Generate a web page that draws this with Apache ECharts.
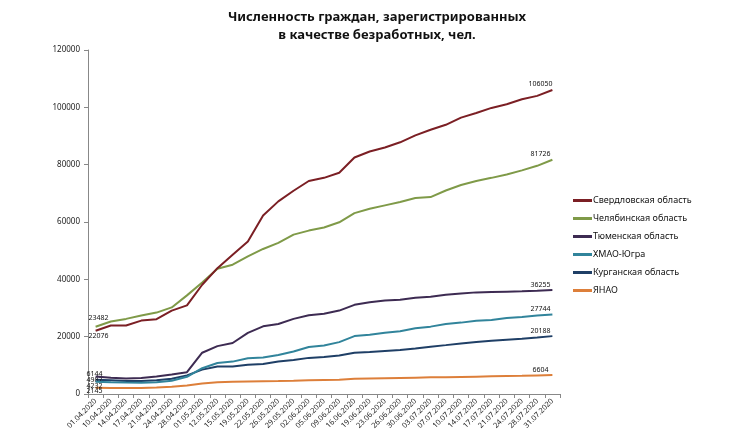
<!DOCTYPE html>
<html>
<head>
<meta charset="utf-8">
<script src="https://cdn.jsdelivr.net/npm/echarts@6/dist/echarts.min.js"></script>
<style>
  html, body { margin: 0; padding: 0; background: #fff; }
  #chart { width: 735px; height: 441px; }
</style>
</head>
<body>
<div id="chart"></div>
<script>
// даты (ось X)
var dates = ['01.04.2020', '10.04.2020', '14.04.2020', '17.04.2020', '21.04.2020', '24.04.2020', '28.04.2020',
    '01.05.2020', '12.05.2020', '15.05.2020', '19.05.2020', '22.05.2020', '26.05.2020', '29.05.2020',
    '02.06.2020', '05.06.2020', '09.06.2020', '16.06.2020', '19.06.2020', '23.06.2020', '26.06.2020', '30.06.2020',
    '03.07.2020', '07.07.2020', '10.07.2020', '14.07.2020', '17.07.2020', '21.07.2020', '24.07.2020', '28.07.2020', '31.07.2020'];

var sverdlovsk = [22076, 23900, 23900, 25600, 26100, 29100, 30900, 38100, 43900, 48600, 53200, 62300, 67200, 70900,
    74300, 75400, 77200, 82500, 84600, 86000, 87800, 90200, 92200, 93900, 96400, 98000, 99800, 101100, 102800, 104000, 106050];
var chelyabinsk = [23482, 25300, 26200, 27400, 28400, 30200, 34400, 38900, 43700, 45100, 48000, 50600, 52700, 55600,
    57000, 58100, 59900, 63100, 64600, 65800, 67000, 68400, 68700, 71000, 72900, 74300, 75400, 76600, 78000, 79600, 81726];
var tyumen = [6144, 5700, 5450, 5550, 6100, 6800, 7600, 14400, 16700, 17800, 21300, 23600, 24400, 26200,
    27500, 28000, 29100, 31100, 32000, 32600, 32900, 33600, 33950, 34600, 35100, 35450, 35600, 35700, 35800, 36000, 36255];
var hmao = [4232, 4100, 4000, 3950, 4100, 4600, 6000, 9000, 10800, 11300, 12500, 12700, 13600, 14800,
    16400, 16900, 18100, 20200, 20700, 21400, 21900, 22900, 23500, 24400, 24900, 25550, 25800, 26500, 26900, 27400, 27744];
var kurgan = [4987, 4800, 4500, 4500, 4800, 5300, 6500, 8500, 9600, 9600, 10200, 10500, 11300, 11900,
    12600, 12940, 13400, 14400, 14650, 15000, 15350, 15900, 16500, 17050, 17650, 18100, 18550, 18900, 19250, 19700, 20188];
var yanao = [2145, 2100, 2100, 2100, 2250, 2550, 3000, 3700, 4100, 4300, 4400, 4450, 4500, 4600,
    4800, 4900, 5000, 5300, 5400, 5500, 5600, 5700, 5800, 5850, 5950, 6050, 6150, 6250, 6350, 6480, 6604];

var seriesNames = ['Свердловская область', 'Челябинская область', 'Тюменская область', 'ХМАО-Югра', 'Курганская область', 'ЯНАО'];
var seriesColors = ['#7b1f24', '#7f9a48', '#3d2b52', '#31849b', '#1f3f66', '#dd7f3a'];

// подписи первой точки: смещение относительно точки
var startOffsets = [[3, 5], [3, -9], [-1, -2], [-1, 4], [-1, 0], [-1, 3]];

function buildData(values, idx) {
    var last = values.length - 1;
    return values.map(function (v, i) {
        if (i === 0) {
            return {value: v, label: {show: true, position: 'inside', offset: startOffsets[idx]}};
        }
        if (i === last) {
            return {value: v, label: {show: true, position: 'top', distance: 2, offset: [-12, 0]}};
        }
        return v;
    });
}

var allValues = [sverdlovsk, chelyabinsk, tyumen, hmao, kurgan, yanao];
var series = allValues.map(function (vals, idx) {
    return {
        name: seriesNames[idx],
        type: 'line',
        data: buildData(vals, idx),
        symbol: 'circle',
        symbolSize: 0,
        showSymbol: true,
        lineStyle: {width: 2, color: seriesColors[idx]},
        itemStyle: {color: seriesColors[idx]},
        label: {show: false, fontSize: 7, color: '#111', fontFamily: 'Noto Sans'},
        emphasis: {disabled: true},
        animation: false,
        z: 10 - idx
    };
});

var chart = echarts.init(document.getElementById('chart'));
chart.setOption({
    backgroundColor: '#fff',
    textStyle: {fontFamily: 'Noto Sans'},
    title: {
        text: 'Численность граждан, зарегистрированных\nв качестве безработных, чел.',
        left: 372,
        top: 3,
        textAlign: 'center',
        textStyle: {fontSize: 13, fontWeight: 'bold', color: '#111', lineHeight: 18, fontFamily: 'Noto Sans'}
    },
    legend: {
        orient: 'vertical',
        left: 573,
        top: 196,
        padding: 0,
        icon: 'rect',
        itemWidth: 19,
        itemHeight: 3,
        itemGap: 9,
        data: seriesNames,
        textStyle: {fontSize: 9, color: '#111', padding: [0, 0, 0, -4]}
    },
    grid: {left: 88, right: 175, top: 50, bottom: 47},
    xAxis: {
        type: 'category',
        data: dates,
        boundaryGap: true,
        axisLine: {lineStyle: {color: '#888'}},
        axisTick: {show: true, length: 4, interval: 0, lineStyle: {color: '#888'}},
        axisLabel: {rotate: 45, interval: 0, fontSize: 7.5, color: '#222', margin: 6}
    },
    yAxis: {
        type: 'value',
        min: 0,
        max: 120000,
        interval: 20000,
        axisLine: {show: true, lineStyle: {color: '#888'}},
        axisTick: {show: true, length: 4, lineStyle: {color: '#888'}},
        splitLine: {show: false},
        axisLabel: {fontSize: 8, color: '#222', margin: 8, formatter: function (v) { return String(v); }}
    },
    series: series
});
</script>
</body>
</html>
